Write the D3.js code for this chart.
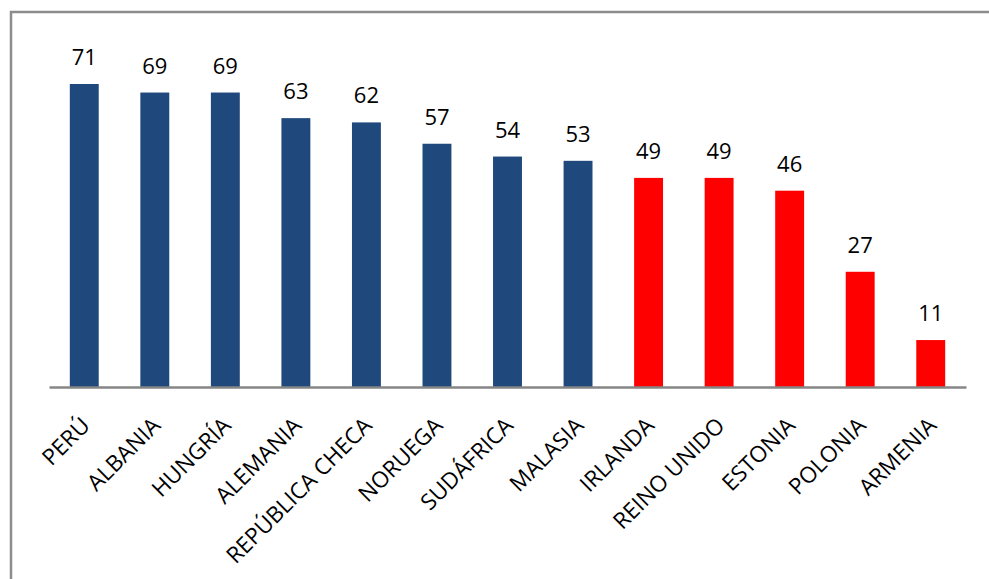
<!DOCTYPE html>
<html><head><meta charset="utf-8">
<script src="https://cdn.jsdelivr.net/npm/d3@7"></script>
<style>html,body{margin:0;padding:0;background:#fff;}svg{display:block;}</style>
</head><body>
<svg id="chart" width="989" height="579"></svg>
<script>
const categories = ["PERÚ","ALBANIA","HUNGRÍA","ALEMANIA","REPÚBLICA CHECA","NORUEGA","SUDÁFRICA","MALASIA","IRLANDA","REINO UNIDO","ESTONIA","POLONIA","ARMENIA"];
const values = [71,69,69,63,62,57,54,53,49,49,46,27,11];
const groups = ["blue","blue","blue","blue","blue","blue","blue","blue","red","red","red","red","red"];
const colors = {blue:"#1F497D", red:"#FF0000"};

const svg = d3.select("#chart");
const font = "'Open Sans', Lato, sans-serif";

svg.append("rect").attr("x",11).attr("y",12).attr("width",1000).attr("height",600)
  .attr("fill","#fff").attr("stroke","#8c8c8c").attr("stroke-width",2.5);

const x = d3.scaleBand().domain(categories).range([49,966]).paddingInner(0.59).paddingOuter(0.295);
const y = d3.scaleLinear().domain([0,71]).range([387,84]);

svg.selectAll("rect.bar").data(categories).join("rect").attr("class","bar")
  .attr("x",d=>x(d)).attr("width",x.bandwidth())
  .attr("y",(d,i)=>y(values[i])).attr("height",(d,i)=>y(0)-y(values[i]))
  .attr("fill",(d,i)=>colors[groups[i]]);

svg.selectAll("text.val").data(categories).join("text").attr("class","val")
  .attr("x",d=>x(d)+x.bandwidth()/2).attr("y",(d,i)=>y(values[i])-19)
  .attr("text-anchor","middle").attr("font-family",font).attr("font-size",22).attr("fill","#000")
  .text((d,i)=>values[i]);

const axis = d3.axisBottom(x).tickSize(0).tickPadding(0);
const g = svg.append("g").attr("transform","translate(0,387)").call(axis);
g.select(".domain").attr("stroke","#868686").attr("stroke-width",2.5);
g.selectAll(".tick text")
  .attr("font-family",font).attr("font-size",22.5).attr("fill","#000")
  .attr("text-anchor","end").attr("dy",null).attr("y",0)
  .attr("transform","translate(7,40) rotate(-45)");
</script>
</body></html>
